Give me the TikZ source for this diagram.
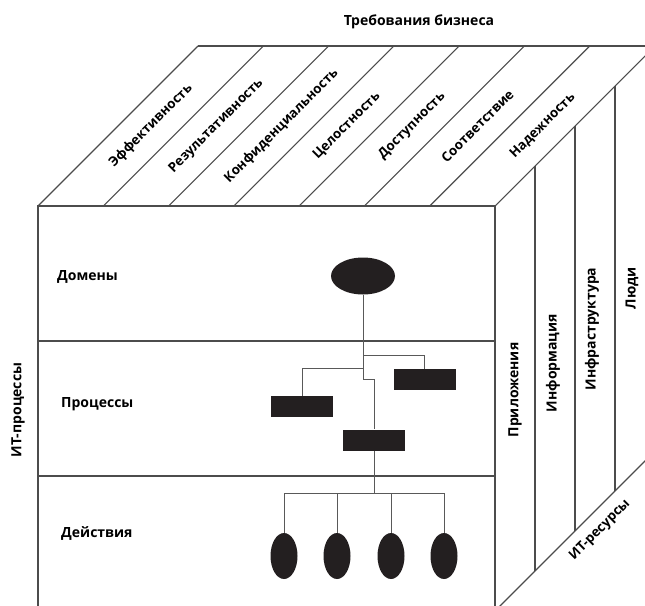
\documentclass[tikz,border=0pt]{standalone}
\usepackage{fontspec}
\setmainfont{Open Sans}
\usetikzlibrary{shapes.geometric}
\definecolor{ink}{HTML}{231F20}

\begin{document}
\begin{tikzpicture}[x=1pt,y=-1pt,
    edge/.style={draw=black!70, line width=1.1pt},
    wire/.style={draw=black!65, line width=0.9pt},
    lbl/.style={font=\fontsize{14}{16}\selectfont\bfseries, inner sep=0pt},
    slant/.style={lbl, rotate=45, font=\fontsize{13.3}{15}\selectfont\bfseries},
    blob/.style={ellipse, fill=ink, inner sep=0pt},
    bar/.style={rectangle, fill=ink, minimum width=62pt, minimum height=21pt, inner sep=0pt}]
		\useasboundingbox (0,0) rectangle (645,605);
		\clip (0,0) rectangle (645,605);

		% cube
		\draw[edge] (38,206) rectangle (495,611);
		\draw[edge] (38,341) -- (495,341);
		\draw[edge] (38,476) -- (495,476);
		\draw[edge] (198,46) -- (655,46);
		\foreach \k in {0,...,7}
			\draw[edge] (38+65.29*\k,206) -- ++(160,-160);
		\draw[edge] (495,611) -- ++(160,-160);
		\foreach \k in {1,2,3}
			\draw[edge] (495+40*\k,206-40*\k) -- (495+40*\k,611-40*\k);

		% labels
		\node[lbl] (biz) at (419,22) {Требования бизнеса};
		\foreach \t [count=\k from 0] in {Эффективность,Результативность,Конфиденциальность,Целостность,Доступность,Соответствие,Надежность}
			\node[slant] (req\k) at (151+65.29*\k,126) {\t};
		\node[lbl, anchor=west] (domains) at (57,277) {Домены};
		\node[lbl, anchor=west] (processes) at (61,404) {Процессы};
		\node[lbl, anchor=west] (actions) at (61,533) {Действия};
		\node[lbl, rotate=90] (itproc) at (18,410) {ИТ-процессы};
		\node[lbl, rotate=90] (apps) at (515,390) {Приложения};
		\node[lbl, rotate=90] (info) at (553,363) {Информация};
		\node[lbl, rotate=90] (infra) at (592,329) {Инфраструктура};
		\node[lbl, rotate=90] (people) at (632,288) {Люди};
		\node[slant] (itres) at (600,530) {ИТ-ресурсы};

		% tree
		\node[blob, minimum width=64pt, minimum height=37pt] (dom) at (363,276) {};
		\node[bar] (procA) at (302,406.5) {};
		\node[bar] (procB) at (424.5,379.5) {};
		\node[bar] (procC) at (374,440) {};
		\foreach \x [count=\i] in {284,337,391,444}
			\node[blob, minimum width=27pt, minimum height=46pt] (act\i) at (\x,556) {};

		\coordinate (j1) at (363,355);
		\coordinate (j2) at (363,368);
		\coordinate (j3) at (363,379);
		\coordinate (bus) at (374,493);
		\draw[wire] (dom.south) -- (j3) -| (procC.north);
		\draw[wire] (j1) -| (procB.north);
		\draw[wire] (j2) -| (procA.north);
		\draw[wire] (procC.south) -- (bus);
		\foreach \i in {1,...,4}
			\draw[wire] (bus) -| (act\i.north);
	\end{tikzpicture}
\end{document}
